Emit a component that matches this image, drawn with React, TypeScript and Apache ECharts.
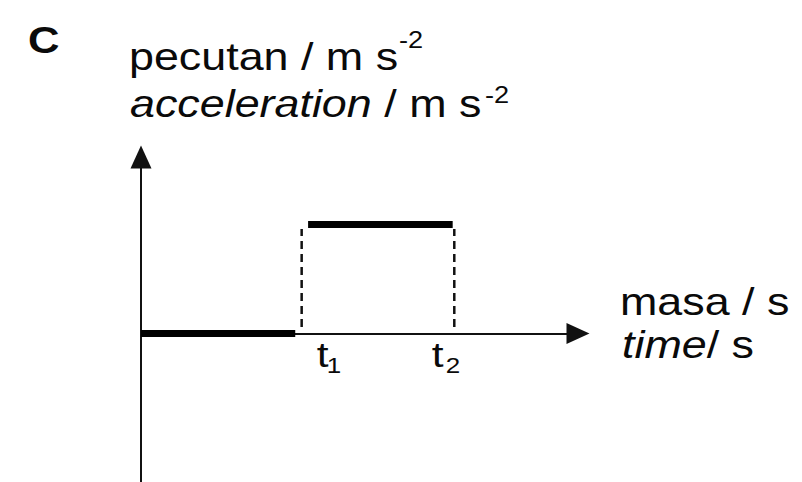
import React, { useEffect, useRef } from 'react';
import * as echarts from 'echarts';

// ---- data (arbitrary time units; acceleration in relative units) ----
const timeMarks = [1.0, 1.95]; // t1, t2
const timeSubscripts = ['1', '2'];
const restSegmentX = [0, 0.96];
const restSegmentY = [0, 0];
const activeSegmentX = [1.04, 1.94];
const activeSegmentY = [1, 1];
const guideY = [0.06, 0.96];
const xRange = [0, 2.72];
const yRange = [-1.4, 1.62];

const FONT = '"Liberation Sans", Arial, Helvetica, sans-serif';
const SX = 1.18;
// layout offsets of the t-labels relative to their time mark (pixels)
const labelDx = [
  { t: 15, sub: 25 },
  { t: -22.5, sub: -8.5 },
];

export default function App() {
  const ref = useRef<HTMLDivElement>(null);

  useEffect(() => {
    const chart = echarts.init(ref.current!, null, { renderer: 'svg' });

    const thick = { color: '#000', width: 7, cap: 'butt' };
    const base = {
      type: 'line',
      symbol: 'none',
      silent: true,
      animation: false,
    };

    const series: any[] = [
      {
        ...base,
        data: restSegmentX.map((x, i) => [x, restSegmentY[i]]),
        lineStyle: thick,
        z: 3,
      },
      {
        ...base,
        data: activeSegmentX.map((x, i) => [x, activeSegmentY[i]]),
        lineStyle: thick,
        z: 3,
      },
      ...timeMarks.map((t) => ({
        ...base,
        data: guideY.map((y) => [t, y]),
        lineStyle: { color: '#111', width: 2.5, type: [8, 5] },
      })),
    ];

    const axisCommon = {
      type: 'value',
      axisTick: { show: false },
      axisLabel: { show: false },
      splitLine: { show: false },
      axisLine: {
        show: true,
        onZero: true,
        symbol: ['none', 'triangle'],
        symbolSize: [21, 23],
        lineStyle: { color: '#111', width: 2 },
      },
    };

    chart.setOption({
      animation: false,
      backgroundColor: '#fff',
      grid: { left: 141, right: 224, top: 157, bottom: -4, outerBoundsMode: 'none' },
      xAxis: { ...axisCommon, min: xRange[0], max: xRange[1] },
      yAxis: { ...axisCommon, min: yRange[0], max: yRange[1] },
      series,
    });

    const txt = (text: string, x: number, y: number, size: number, extra: any = {}) => ({
      type: 'text',
      x,
      y,
      scaleX: SX,
      silent: true,
      style: {
        text,
        fontSize: size,
        fontFamily: FONT,
        fill: '#0a0a0a',
        align: 'left',
        verticalAlign: 'middle',
        ...extra,
      },
    });

    const measure = (s: string, font: string) => {
      const f: any = (echarts as any).format;
      return f && f.getTextRect ? f.getTextRect(s, font).width : 0;
    };
    const italicW = measure('acceleration', `italic 38px ${FONT}`);
    const timeW = measure('time', `italic 38px ${FONT}`);

    const tLabels: any[] = [];
    timeMarks.forEach((t, i) => {
      const p = chart.convertToPixel({ gridIndex: 0 }, [t, 0]) as number[];
      tLabels.push(txt('t', p[0] + labelDx[i].t, 354.5, 36));
      tLabels.push(txt(timeSubscripts[i], p[0] + labelDx[i].sub, 365, 22));
    });

    chart.setOption({
      graphic: [
        txt('C', 28, 40, 37, { fontWeight: 'bold' }),
        txt('pecutan / m s', 129, 56.8, 38),
        txt('-2', 399, 40, 23),
        txt('acceleration', 130, 103.8, 38, { fontStyle: 'italic' }),
        txt(' / m s', 130 + italicW * SX, 103.8, 38),
        txt('-2', 485, 95, 23),
        txt('masa / s', 620, 301.8, 38),
        txt('time', 622, 344.8, 38, { fontStyle: 'italic' }),
        txt('/ s', 622 + timeW * SX, 344.8, 38),
        ...tLabels,
      ],
    });

    return () => chart.dispose();
  }, []);

  return (
    <div
      ref={ref}
      style={{ position: 'absolute', left: 0, top: 0, width: 802, height: 482 }}
    />
  );
}
